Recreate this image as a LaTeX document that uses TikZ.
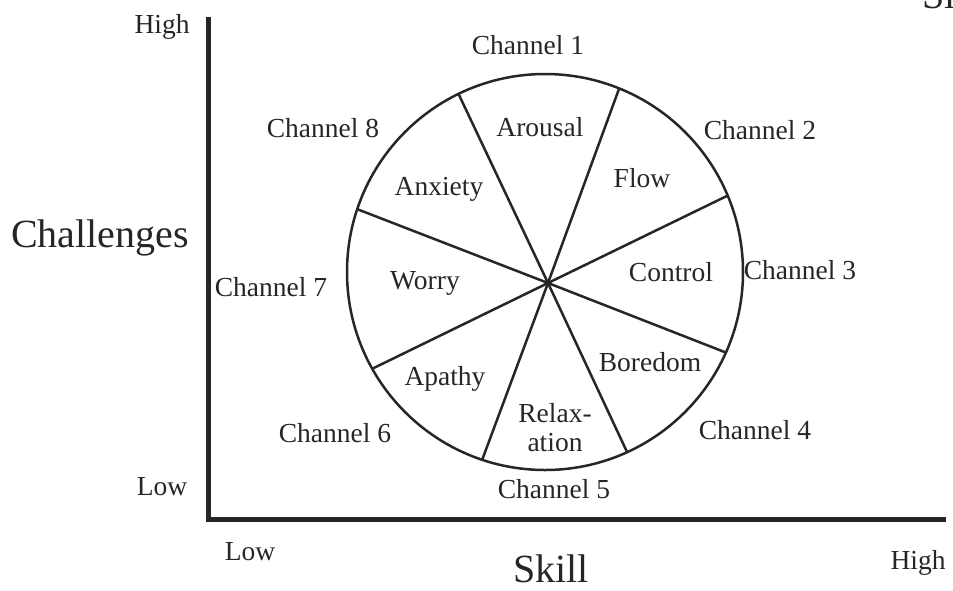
\documentclass[tikz,border=0pt]{standalone}
\usepackage{fontspec}
\setmainfont{Liberation Serif}
\usetikzlibrary{calc}
\usetikzlibrary{positioning}

\begin{document}
\begin{tikzpicture}[x=1pt, y=-1pt, font=\fontsize{27.5}{29}\selectfont,
    lbl/.style={inner sep=0pt, text=black!85},
    biglbl/.style={inner sep=0pt, text=black!85, font=\fontsize{40}{42}\selectfont}]
      \useasboundingbox (0,0) rectangle (953,590);

      % axes
      \coordinate (ytop) at (208,17);
      \coordinate (orig) at (208,519);
      \coordinate (xend) at (946,519);
      \draw[line width=5pt, black!85] (ytop) -- (orig) -- (xend);

      % wheel of channels
      \coordinate (cen) at (545,272);
      \coordinate (hub) at (548,283);
      \draw[line width=2.5pt, black!85] (cen) circle[radius=198pt];

      \foreach \a [count=\i] in {115.9, 68, 22.7, -24, -65.5, -108.5, -150.75, 161.5}{
        \coordinate (e\i) at ([shift={(\a:198pt)}]cen);
        \draw[line width=2.5pt, black!85] (hub) -- (e\i);
      }

      \foreach \x/\y [count=\i] in {528/45, 760/130, 800/270, 755/430, 554/489, 335/433, 271/287, 323/128}{
        \node[lbl] (ch\i) at (\x,\y) {Channel \i};
      }

      % states
      \node[lbl] (arousal) at (540,127) {Arousal};
      \node[lbl] (flow) at (642,178) {Flow};
      \node[lbl] (control) at (671,272) {Control};
      \node[lbl] (boredom) at (650,362) {Boredom};
      \node[lbl, align=center] (relax) at (555,428) {Relax-\\ation};
      \node[lbl] (apathy) at (445,379) {Apathy};
      \node[lbl] (worry) at (425,283) {Worry};
      \node[lbl] (anxiety) at (439,189) {Anxiety};

      % axis labels
      \node[lbl] (yhigh) at (162,27) {High};
      \node[lbl] (ylow) at (162,487) {Low};
      \node[lbl] (xlow) at (250,552) {Low};
      \node[lbl] (xhigh) at (918,563) {High};
      \node[biglbl] (chall) at (100,238) {Challenges};
      \node[biglbl, anchor=base] (skill) at (551,582) {Skill};
      \node[biglbl, anchor=base west] (cut) at (922,8) {Sl};

    \end{tikzpicture}
\end{document}
